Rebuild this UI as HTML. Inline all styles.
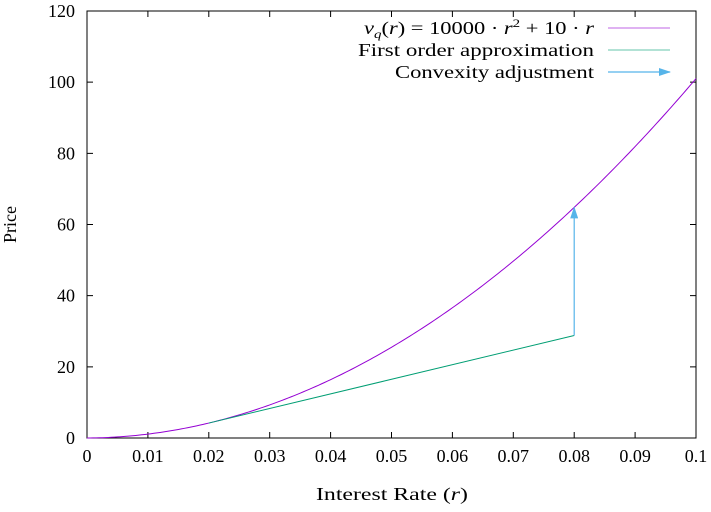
<!DOCTYPE html>
<html><head><meta charset="utf-8"><style>
body{margin:0;background:#fff}
svg text{font-family:"Liberation Serif",serif;font-size:18px;fill:#000}
</style></head><body>
<svg width="711" height="507" xmlns="http://www.w3.org/2000/svg">
<defs><marker id="ah" markerWidth="12" markerHeight="8" refX="11" refY="4" orient="auto" markerUnits="userSpaceOnUse"><path d="M0,0 L12,4 L0,8 z" fill="#56b4e9"/></marker></defs>
<g id="axes"></g>
<g id="series"></g>
</svg>
<script>
const xTicks=[0,0.01,0.02,0.03,0.04,0.05,0.06,0.07,0.08,0.09,0.1];
const xTickLabels=["0","0.01","0.02","0.03","0.04","0.05","0.06","0.07","0.08","0.09","0.1"];
const yTicks=[0,20,40,60,80,100,120];
const quadA=[10000];
const quadB=[10];
const tangentPoint=[0.02];
const tangentEnd=[0.08];
const arrowX=[0.08];
const L=87,R=696,T=11,B=438;
const sx=v=>L+(v-0)/0.1*(R-L);
const sy=v=>B-(v/120)*(B-T);
const NS="http://www.w3.org/2000/svg";
const ax=document.getElementById('axes'),se=document.getElementById('series');
function mk(tag,attrs,parent){const e=document.createElementNS(NS,tag);for(const k in attrs)e.setAttribute(k,attrs[k]);parent.appendChild(e);return e;}
let f=mk('rect',{x:L,y:T,width:R-L,height:B-T,fill:'none',stroke:'#000','stroke-width':1},ax);


xTicks.forEach((v,i)=>{const x=sx(v);
 let t=mk('path',{d:`M${x},${B}v-6M${x},${T}v6`,stroke:'#000'},ax);
 
 
 let l=mk('text',{x:x,y:B+24,'text-anchor':'middle'},ax);l.textContent=xTickLabels[i];
 
 });
yTicks.forEach(v=>{const y=sy(v);
 let t=mk('path',{d:`M${L},${y}h6M${R},${y}h-6`,stroke:'#000'},ax);
 
 
 let l=mk('text',{x:L-12,y:y+6,'text-anchor':'end'},ax);l.textContent=v;
 
 });
let xt=mk('text',{x:316,y:500,textLength:152,lengthAdjust:'spacingAndGlyphs'},ax);xt.innerHTML='Interest Rate (<tspan font-style="italic">r</tspan>)';


let yt=mk('text',{x:0,y:0,'text-anchor':'middle','font-size':20,transform:`translate(16,${(T+B)/2}) rotate(-90)`},ax);yt.textContent='Price';


const fq=r=>quadA[0]*r*r+quadB[0]*r;
let pts=[];for(let i=0;i<=200;i++){const r=0.1*i/200;pts.push(sx(r).toFixed(2)+','+sy(fq(r)).toFixed(2));}
let c=mk('polyline',{points:pts.join(' '),fill:'none',stroke:'#9400d3','stroke-width':1},se);


const r0=tangentPoint[0],slope=2*quadA[0]*r0+quadB[0],r1=tangentEnd[0];
let tl=mk('line',{x1:sx(r0),y1:sy(fq(r0)),x2:sx(r1),y2:sy(fq(r0)+slope*(r1-r0)),stroke:'#009e73','stroke-width':1},se);


let ar=mk('line',{x1:sx(arrowX[0]),y1:sy(fq(r0)+slope*(arrowX[0]-r0)),x2:sx(arrowX[0]),y2:sy(fq(arrowX[0])),stroke:'#56b4e9','stroke-width':1.2,'marker-end':'url(#ah)'},se);


const leg=[["v","#9400d3",28,230],["First order approximation","#009e73",50,236],["Convexity adjustment","#56b4e9",72,199]];
leg.forEach((e,i)=>{let t=mk('text',{x:594-e[3],y:e[2]+6,textLength:e[3],lengthAdjust:'spacingAndGlyphs'},se);
 if(i==0)t.innerHTML='<tspan font-style="italic">v</tspan><tspan font-style="italic" font-size="12" dy="4">q</tspan><tspan dy="-4">(</tspan><tspan font-style="italic">r</tspan>) = 10000 · <tspan font-style="italic">r</tspan><tspan font-size="12" dy="-7">2</tspan><tspan dy="7"> + 10 · </tspan><tspan font-style="italic">r</tspan>';
 else t.textContent=e[0];
 
 
 let l=mk('line',{x1:608,y1:e[2],x2:670,y2:e[2],stroke:e[1],'stroke-width':i==2?1.2:1,'stroke-opacity':i==2?1:0.6},se);
 if(i==2)l.setAttribute('marker-end','url(#ah)');
 
 });
</script>
</body></html>
